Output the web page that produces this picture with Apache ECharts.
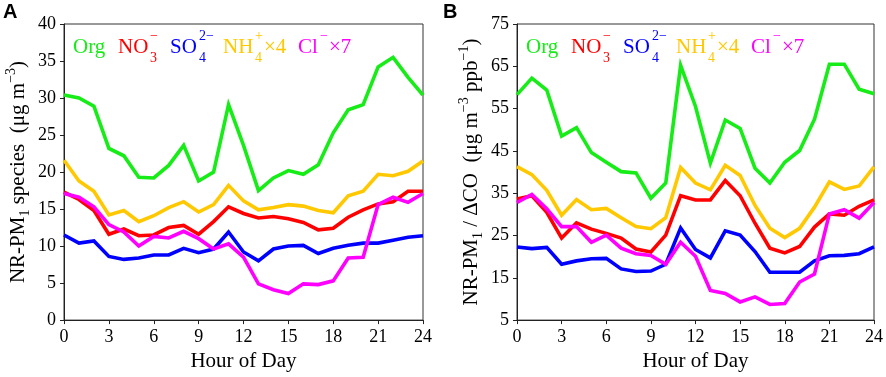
<!DOCTYPE html>
<html>
<head>
<meta charset="utf-8">
<script src="https://cdn.jsdelivr.net/npm/echarts@6/dist/echarts.min.js"></script>
<style>
  html, body { margin: 0; padding: 0; background: #fff; }
  #chart { width: 886px; height: 377px; }
</style>
</head>
<body>
<div id="chart"></div>
<script>
// hours 0..24
const hours = [0,1,2,3,4,5,6,7,8,9,10,11,12,13,14,15,16,17,18,19,20,21,22,23,24];
const xTicks = [0, 3, 6, 9, 12, 15, 18, 21, 24];

// Panel A: NR-PM1 species (ug m-3)
const orgA = [30.4,30.0,28.9,23.2,22.2,19.3,19.2,20.9,23.6,18.8,20.0,29.1,23.6,17.5,19.2,20.2,19.7,21.0,25.3,28.4,29.1,34.2,35.5,32.8,30.4];
const no3A = [17.3,16.3,14.8,11.6,12.3,11.4,11.5,12.5,12.8,11.6,13.3,15.3,14.4,13.8,14.0,13.7,13.2,12.2,12.4,13.9,14.9,15.7,16.0,17.4,17.4];
const so4A = [11.5,10.4,10.7,8.6,8.2,8.4,8.8,8.8,9.7,9.1,9.6,11.9,9.2,8.0,9.6,10.0,10.1,9.0,9.7,10.1,10.4,10.4,10.8,11.2,11.4];
const nh4A = [21.6,18.8,17.4,14.2,14.8,13.3,14.1,15.2,16.0,14.6,15.6,18.2,16.1,14.9,15.2,15.6,15.4,14.8,14.5,16.8,17.4,19.7,19.5,20.1,21.5];
const clA  = [17.1,16.6,15.3,12.9,11.9,10.0,11.3,11.1,12.0,11.0,9.6,10.3,8.5,4.9,4.1,3.6,4.9,4.8,5.3,8.4,8.5,15.6,16.6,15.9,17.1];

// Panel B: NR-PM1 / dCO (ug m-3 ppb-1)
const orgB = [58.3,62.2,59.4,48.5,50.5,44.6,42.3,40.1,39.8,33.8,37.4,65.2,55.5,42.1,52.3,50.3,40.9,37.4,42.3,45.1,52.5,65.5,65.5,59.6,58.5];
const no3B = [33.6,34.4,30.5,24.4,28.0,26.5,25.5,24.4,21.8,21.1,25.1,34.4,33.4,33.4,38.0,34.4,27.9,22.0,20.9,22.4,27.0,30.1,29.8,31.9,33.4];
const so4B = [22.3,21.9,22.2,18.2,19.0,19.5,19.6,17.1,16.5,16.6,18.2,26.8,21.7,19.7,26.1,25.1,21.2,16.3,16.3,16.3,19.0,20.2,20.3,20.7,22.3];
const nh4B = [41.3,39.4,35.7,29.8,33.5,31.1,31.4,29.2,27.1,26.6,29.2,41.1,37.4,35.8,41.6,39.2,32.1,26.7,24.5,26.7,31.7,37.7,35.9,36.7,41.2];
const clB  = [32.8,34.7,31.3,27.1,27.1,23.4,25.1,22.0,20.7,20.3,18.2,23.4,20.1,12.0,11.3,9.3,10.5,8.7,8.9,14.0,15.9,30.1,31.1,29.1,32.8];

const seriesNames = ['Org', 'NO3', 'SO4', 'NH4x4', 'Clx7'];
const colors = ['#16ec16', '#ff0000', '#0000ff', '#ffc800', '#ff00ff'];

const SERIF = '"Liberation Serif", "Times New Roman", serif';

const pairs = (vals) => hours.map((h, i) => [h, vals[i]]);

const makeSeries = (arrs, axisIndex) => arrs.map((vals, i) => ({
  name: seriesNames[i] + (axisIndex ? 'B' : 'A'),
  type: 'line',
  xAxisIndex: axisIndex,
  yAxisIndex: axisIndex,
  data: pairs(vals),
  showSymbol: false,
  silent: true,
  lineStyle: { color: colors[i], width: 3.6, join: 'miter' },
  itemStyle: { color: colors[i] },
}));

const nameRich = {
  sub: { fontFamily: SERIF, fontSize: 14, lineHeight: 14, verticalAlign: 'bottom', color: '#000' },
  sup: { fontFamily: SERIF, fontSize: 14, lineHeight: 14, verticalAlign: 'top', color: '#000' },
};

const xAxisOf = (gridIndex) => ({
  type: 'value',
  gridIndex: gridIndex,
  min: 0, max: 24, interval: 3,
  name: 'Hour of Day',
  nameLocation: 'middle',
  nameGap: 30,
  nameTextStyle: { fontFamily: SERIF, fontSize: 21, color: '#000' },
  axisLine: { lineStyle: { color: '#222', width: 1 } },
  axisTick: { length: 4, lineStyle: { color: '#222' } },
  axisLabel: { fontFamily: SERIF, fontSize: 18, color: '#000', margin: 8,
    customValues: xTicks },
  splitLine: { show: false },
});

const yAxisOf = (gridIndex, min, max, interval, name) => ({
  type: 'value',
  gridIndex: gridIndex,
  min: min, max: max, interval: interval,
  name: name,
  nameLocation: 'middle',
  nameGap: 32,
  nameTextStyle: { fontFamily: SERIF, fontSize: 21, lineHeight: 28, color: '#000', rich: nameRich },
  axisLine: { show: true, lineStyle: { color: '#222', width: 1 } },
  axisTick: { show: true, length: 4, lineStyle: { color: '#222' } },
  axisLabel: { fontFamily: SERIF, fontSize: 18, color: '#000', margin: 8 },
  splitLine: { show: false },
});

// legend drawn as text pieces so subscripts and superscripts can stack
const legendPieces = [
  // [text, dx, kind, colorIndex]  kind: m = main, b = subscript, p = superscript
  ['Org', 9, 'm', 0],
  ['NO', 54, 'm', 1], ['3', 86, 'b', 1], ['\u2212', 86, 'p', 1],
  ['SO', 106, 'm', 2], ['4', 135, 'b', 2], ['2\u2212', 135, 'p', 2],
  ['NH', 159, 'm', 3], ['4', 191, 'b', 3], ['+', 191, 'p', 3], ['\u00d74', 200, 'm', 3],
  ['Cl', 234, 'm', 4], ['\u2212', 256, 'p', 4], ['\u00d77', 265, 'm', 4],
];

const makeLegend = (left) => legendPieces.map(([t, dx, kind, ci]) => {
  const size = kind === 'm' ? 21 : 14;
  const baseline = kind === 'm' ? 55 : (kind === 'b' ? 63 : 41);
  return {
    type: 'text',
    left: left + dx,
    top: baseline - Math.round(size * 0.86),
    silent: true,
    style: { text: t, font: size + 'px ' + SERIF, fill: colors[ci] },
  };
});

const gridA = { left: 64, right: 463, top: 24, bottom: 53, show: true, borderColor: '#333', borderWidth: 1 };
const gridB = { left: 517, right: 11, top: 24, bottom: 53, show: true, borderColor: '#333', borderWidth: 1 };

const chart = echarts.init(document.getElementById('chart'), null, { renderer: 'canvas' });

chart.setOption({
  animation: false,
  backgroundColor: '#fff',
  grid: [gridA, gridB],
  xAxis: [xAxisOf(0), xAxisOf(1)],
  yAxis: [
    yAxisOf(0, 0, 40, 5, 'NR-PM{sub|1} species  (\u03bcg m{sup|\u22123})'),
    yAxisOf(1, 5, 75, 10, 'NR-PM{sub|1} / \u0394CO  (\u03bcg m{sup|\u22123} ppb{sup|\u22121})'),
  ],
  series: makeSeries([orgA, no3A, so4A, nh4A, clA], 0)
    .concat(makeSeries([orgB, no3B, so4B, nh4B, clB], 1)),
  graphic: [
    { type: 'text', left: 3, top: 2, style: { text: 'A', font: 'bold 20px "Liberation Sans", Arial, sans-serif', fill: '#000' } },
    { type: 'text', left: 443, top: 2, style: { text: 'B', font: 'bold 20px "Liberation Sans", Arial, sans-serif', fill: '#000' } },
  ].concat(makeLegend(64)).concat(makeLegend(517)),
});
</script>
</body>
</html>
